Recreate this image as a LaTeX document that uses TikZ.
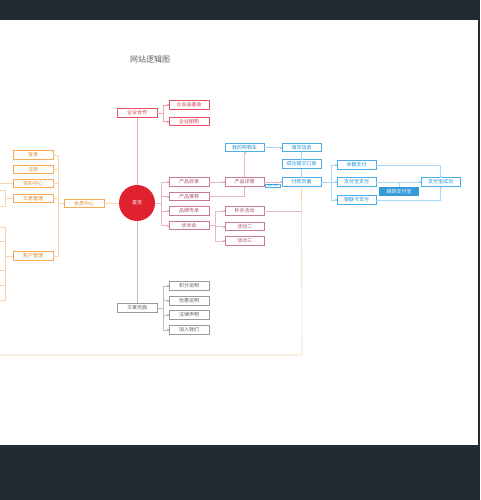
\documentclass[tikz,border=0pt]{standalone}
\usepackage{fontspec}
\newfontfamily\cjk{Noto Sans CJK SC}
\usetikzlibrary{arrows.meta}
\definecolor{darkbg}{HTML}{232A33}
\definecolor{orB}{HTML}{F5A957}\definecolor{orT}{HTML}{E08A2A}\definecolor{orL}{HTML}{F8D4B0}
\definecolor{rdB}{HTML}{E3525E}\definecolor{rdT}{HTML}{D33645}\definecolor{rdL}{HTML}{EFA3AA}
\definecolor{mvB}{HTML}{C77A98}\definecolor{mvT}{HTML}{A8527A}\definecolor{mvL}{HTML}{E4BACB}
\definecolor{blB}{HTML}{4AAEEA}\definecolor{blT}{HTML}{1F8FD6}\definecolor{blL}{HTML}{A9D7F5}
\definecolor{gyB}{HTML}{9A9A9A}\definecolor{gyT}{HTML}{606060}\definecolor{gyL}{HTML}{BDBDBD}
\definecolor{homeR}{HTML}{E0222E}
\tikzset{
  box/.style={rectangle,fill=white,line width=0.7pt,minimum width=40pt,minimum height=8.5pt,inner sep=0pt,font=\cjk\fontsize{5}{6}\selectfont},
  obox/.style={box,draw=orB,text=orT},
  rbox/.style={box,draw=rdB,text=rdT},
  mbox/.style={box,draw=mvB,text=mvT},
  bbox/.style={box,draw=blB,text=blT,minimum width=39pt},
  gbox/.style={box,draw=gyB,text=gyT},
  tip/.style={-{Square[length=1.4pt,width=1.4pt]}},
  oline/.style={draw=orL,line width=0.6pt},
  rline/.style={draw=rdL,line width=0.6pt},
  mline/.style={draw=mvL,line width=0.6pt},
  bline/.style={draw=blL,line width=0.6pt},
  gline/.style={draw=gyL,line width=0.6pt},
}
\begin{document}
\begin{tikzpicture}[x=1pt,y=-1pt]
\useasboundingbox (0,0) rectangle (480,500);
\fill[darkbg] (0,0) rectangle (480,500);
\fill[white] (0,20) rectangle (478,445);
\node[font=\cjk\fontsize{8}{9}\selectfont,text=gyT] (title) at (150,59) {网站逻辑图};

% home
\node[circle,fill=homeR,minimum size=36pt,inner sep=0pt,text=white,font=\cjk\fontsize{5}{6}\selectfont] (home) at (137,203) {首页};

% red group
\node[rbox] (coop) at (137,113) {企业合作};
\node[rbox] (pj) at (189,105) {企业品鉴会};
\node[rbox] (tg) at (189,121.5) {企业团购};
\draw[rline] (home.north) -- (coop.south);
\draw[rline,tip] (coop.east) -- (163,113) |- (pj.west);
\draw[rline,tip] (coop.east) -- (163,113) |- (tg.west);

% gray group
\node[gbox] (art) at (137,308) {文章页面};
\node[gbox] (jf) at (189,286) {积分说明};
\node[gbox] (yh) at (189,300.7) {优惠说明};
\node[gbox] (fl) at (189,315) {法律声明};
\node[gbox] (jr) at (189,330) {加入我们};
\draw[gline] (home.south) -- (art.north);
\foreach \c in {jf,yh,fl,jr}{\draw[gline,tip] (art.east) -- (163,308) |- (\c.west);}

% orange group
\node[obox] (mem) at (84,203.5) {会员中心};
\node[obox] (dl) at (33,155) {登录};
\node[obox] (zc) at (33,169.5) {注册};
\node[obox] (zl) at (33,183.5) {资料中心};
\node[obox] (jy) at (33,198.5) {交易管理};
\node[obox] (zh) at (33,256) {账户管理};
\draw[oline] (home.west |- mem.east) -- (mem.east);
\foreach \c in {dl,zc,zl,jy,zh}{\draw[oline,tip] (mem.west) -- (58,203.5) |- (\c.east);}
\coordinate (zlL) at (0,183.5);
\draw[oline] (zl.west) -- (zlL);
\coordinate (jyA) at (0,190.7); \coordinate (jyB) at (0,206.7);
\draw[oline] (jy.west) -- (5,198.5);
\draw[oline] (jyA) -- (5,190.7) -- (5,206.7) -- (jyB);
\draw[oline] (zh.west) -- (5,256);
\draw[oline] (0,227) -- (5,227) -- (5,300) -- (0,300);
\foreach \yy in {241,270,285}{\draw[oline] (5,\yy) -- (0,\yy);}

% mauve group
\node[mbox] (ml) at (189,182) {产品目录};
\node[mbox] (tj) at (189,196.5) {产品推荐};
\node[mbox] (pp) at (189,211) {品牌传承};
\node[mbox] (ym) at (189,225.5) {优米会};
\foreach \c in {ml,tj,pp,ym}{\draw[mline,tip] (home.east) -- (161,203) |- (\c.west);}
\node[mbox,minimum width=39pt] (xq) at (244.5,182) {产品详情};
\node[mbox,minimum width=39pt] (ms) at (244.5,211) {秒杀活动};
\node[mbox,minimum width=39pt] (h2) at (244.5,226.5) {活动二};
\node[mbox,minimum width=39pt] (h3) at (244.5,241) {活动三};
\draw[mline,tip] (ml.east) -- (xq.west);
\draw[mline,tip] (tj.east) -| (xq.south);
\foreach \c in {ms,h2,h3}{\draw[mline,tip] (ym.east) -- (215,225.5) |- (\c.west);}

% blue group
\node[bbox] (gwc) at (244.5,147.5) {我的购物车};
\node[bbox] (tx) at (301.5,147.5) {填写信息};
\node[bbox] (cg) at (301.5,164) {成功提交订单};
\node[bbox] (fk) at (301.5,182) {付款页面};
\draw[mline,tip] (xq.north) -- (gwc.south);
\draw[bline,tip] (gwc.east) -- (tx.west);
\draw[bline,tip] (tx.south) -- (cg.north);
\draw[bline,tip] (cg.south) -- (fk.north);
\draw[mline,tip] (xq.east) -- (fk.west);
\node[draw=blB,fill=white,line width=0.4pt,minimum width=15pt,minimum height=3.6pt,inner sep=0pt,text=blT,font=\cjk\fontsize{2.5}{3}\selectfont] (tag) at (272.5,185.6) {跳转付款};

% orange long loop
\coordinate (loopL) at (0,355);
\draw[oline] (fk.south) -- (302,355) -- (loopL);
\draw[mline] (ms.east) -- (302,211);

\node[bbox] (ye) at (356.5,165) {余额支付};
\node[bbox] (zfb) at (356.5,182) {支付宝支付};
\node[bbox] (yl) at (356.5,200) {银联卡支付};
\node[bbox] (cgz) at (440.5,182) {支付宝成功};
\node[rectangle,fill=blT!90!white,minimum width=40pt,minimum height=9pt,inner sep=0pt,text=white,font=\cjk\fontsize{5}{6}\selectfont] (tz) at (399,191.5) {跳转支付宝};
\foreach \c in {ye,zfb,yl}{\draw[bline,tip] (fk.east) -- (331,182) |- (\c.west);}
\draw[bline,tip] (ye.east) -| (cgz.north);
\draw[bline,tip] (yl.east) -| (cgz.south);
\draw[bline,tip] (zfb.east) -- (cgz.west);
\draw[bline] (tz.north |- zfb.east) -- (tz.north);
\end{tikzpicture}
\end{document}
